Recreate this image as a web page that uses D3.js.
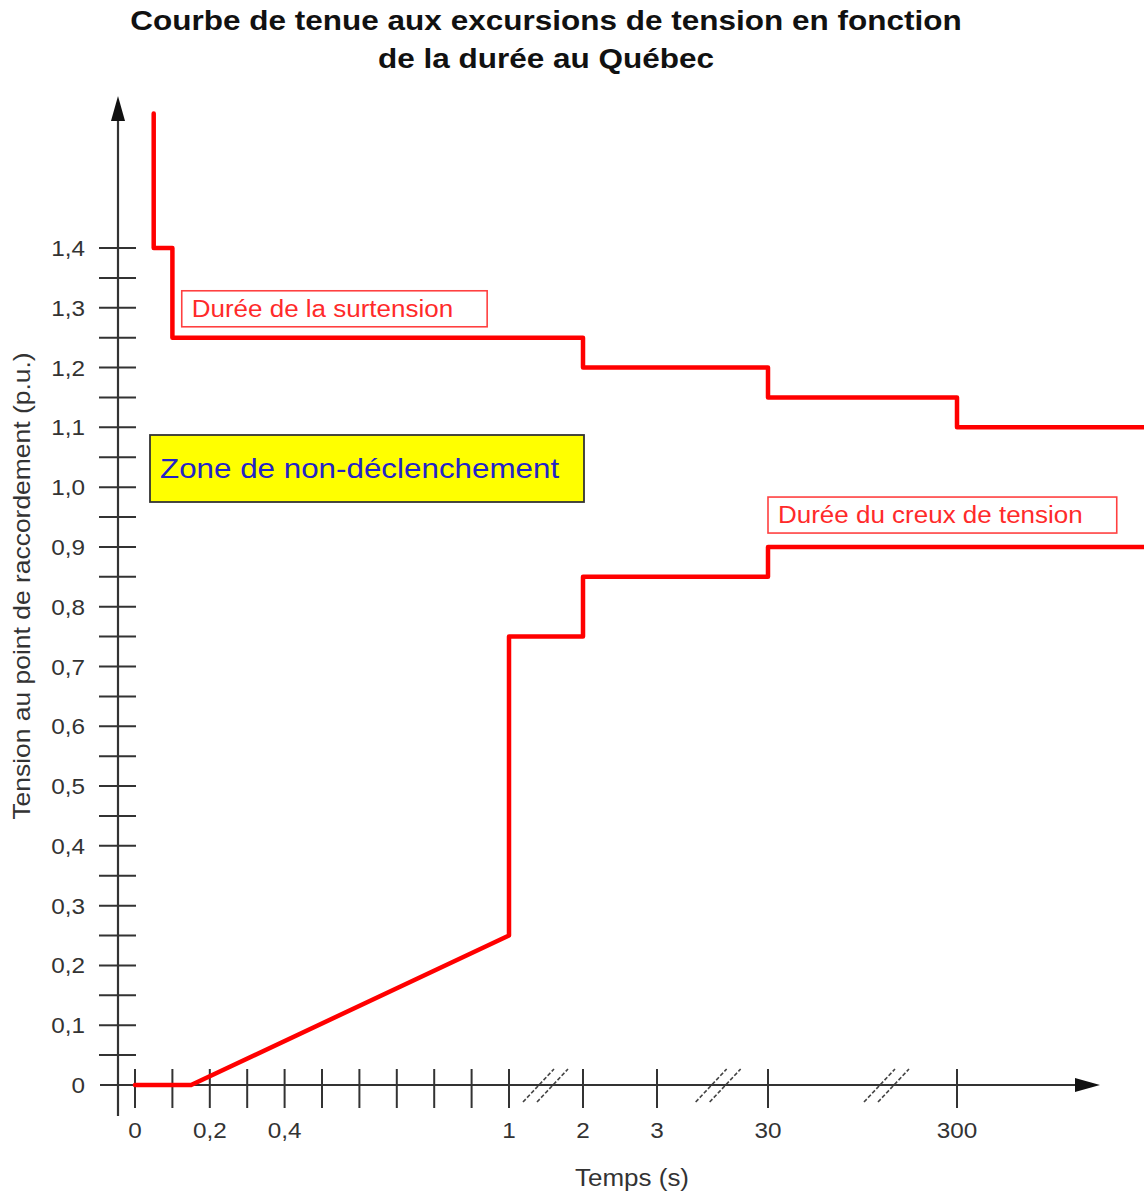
<!DOCTYPE html>
<html><head><meta charset="utf-8">
<script src="https://cdn.jsdelivr.net/npm/d3@7"></script>
<style>
html,body{margin:0;padding:0;background:#fff;}
svg{display:block;font-family:"Liberation Sans",Arial,sans-serif;}
</style></head><body>
<svg id="c" width="1144" height="1194"></svg>
<script>
// ---- data ----
const titleLines = ["Courbe de tenue aux excursions de tension en fonction", "de la durée au Québec"];
const yLabel = "Tension au point de raccordement (p.u.)";
const xLabel = "Temps (s)";
// x-axis anchor points (broken axis): time values in seconds
const xAnchors = [0, 1, 2, 3, 30, 300, 600];
const xTickValues = [0, 0.1, 0.2, 0.3, 0.4, 0.5, 0.6, 0.7, 0.8, 0.9, 1, 2, 3, 30, 300];
const xTickLabels = {"0":"0","0.2":"0,2","0.4":"0,4","1":"1","2":"2","3":"3","30":"30","300":"300"};
const xBreaks = [1.5, 18, 200];
const yMajorTicks = [0, 0.1, 0.2, 0.3, 0.4, 0.5, 0.6, 0.7, 0.8, 0.9, 1.0, 1.1, 1.2, 1.3, 1.4];
const yMinorTicks = [0.05, 0.15, 0.25, 0.35, 0.45, 0.55, 0.65, 0.75, 0.85, 0.95, 1.05, 1.15, 1.25, 1.35];
// overvoltage withstand curve (time s, voltage p.u.)
const surT = [0.05, 0.05, 0.1, 0.1, 2, 2, 30, 30, 300, 300, 600];
const surV = [1.625, 1.4, 1.4, 1.25, 1.25, 1.2, 1.2, 1.15, 1.15, 1.1, 1.1];
// undervoltage (dip) withstand curve
const creuxT = [0, 0.15, 1, 1, 2, 2, 30, 30, 600];
const creuxV = [0, 0, 0.25, 0.75, 0.75, 0.85, 0.85, 0.9, 0.9];
const notes = [
  {text:"Durée de la surtension", t:0.125, v:1.3},
  {text:"Durée du creux de tension", t:30, v:0.955}
];
const zoneText = "Zone de non-déclenchement";

// ---- drawing ----
const SX = 1.13; // horizontal text stretch of the original picture
const svg = d3.select("#c");
const x = d3.scaleLinear().domain(xAnchors).range([135, 509, 583, 657, 768, 957, 1150]);
const y = d3.scaleLinear().domain([0, 1.4]).range([1085, 248]);
const axisCol = "#333";

function stext(parent, tx, ty, str, opts){
  const o = Object.assign({size:22, anchor:"start", fill:axisCol, weight:"normal", rot:0, sx:SX}, opts||{});
  return parent.append("text")
    .attr("transform", `translate(${tx},${ty})` + (o.rot?` rotate(${o.rot})`:"") + ` scale(${o.sx},1)`)
    .attr("text-anchor", o.anchor).attr("font-size", o.size).attr("font-weight", o.weight)
    .attr("fill", o.fill).text(str);
}

// title
titleLines.forEach((t,i)=>stext(svg, 546, 30 + i*38, t, {size:28, anchor:"middle", weight:"bold", fill:"#111", sx:1.125}));

// y axis line + arrow
const y0 = y(0);
svg.append("line").attr("x1",118).attr("x2",118).attr("y1",1116).attr("y2",110)
  .attr("stroke",axisCol).attr("stroke-width",2.2);
svg.append("path").attr("d","M118,96 L111,121 L125,121 Z").attr("fill","#111");
// x axis line + arrow
svg.append("line").attr("x1",100).attr("x2",1085).attr("y1",y0).attr("y2",y0)
  .attr("stroke",axisCol).attr("stroke-width",2.2);
svg.append("path").attr("d",`M1100,${y0} L1075,${y0-7} L1075,${y0+7} Z`).attr("fill","#111");

// y ticks
const yTicksAll = yMajorTicks.filter(v=>v>0).concat(yMinorTicks);
svg.append("g").selectAll("line").data(yTicksAll).join("line")
  .attr("x1",99).attr("x2",136).attr("y1",d=>y(d)).attr("y2",d=>y(d))
  .attr("stroke",axisCol).attr("stroke-width",2);
const ytl = svg.append("g");
yMajorTicks.forEach(d=>stext(ytl, 85, y(d)+8, d===0?"0":d.toFixed(1).replace(".",","), {size:21.5, anchor:"end"}));

// x ticks
svg.append("g").selectAll("line").data(xTickValues).join("line")
  .attr("x1",d=>x(d)).attr("x2",d=>x(d)).attr("y1",y0-16).attr("y2",y0+23)
  .attr("stroke",axisCol).attr("stroke-width",2);
const xtl = svg.append("g");
xTickValues.filter(d=>xTickLabels[String(d)]!==undefined)
  .forEach(d=>stext(xtl, x(d), y0+53, xTickLabels[String(d)], {size:21.5, anchor:"middle"}));

// axis breaks
const brk = svg.append("g");
xBreaks.forEach(b=>{
  const cx = x(b);
  [-7,7].forEach(off=>{
    brk.append("line").attr("x1",cx+off-16).attr("y1",y0+17).attr("x2",cx+off+15).attr("y2",y0-16)
      .attr("stroke","#444").attr("stroke-width",1.6).attr("stroke-dasharray","4,2");
  });
});

// axis titles
stext(svg, 30, 586, yLabel, {size:23, anchor:"middle", rot:-90, sx:1.15});
stext(svg, 632, 1186, xLabel, {size:23, anchor:"middle"});

// curves
const line = d3.line().x(d=>x(d[0])).y(d=>y(d[1]));
[[surT,surV],[creuxT,creuxV]].forEach(([ts,vs])=>{
  svg.append("path").datum(ts.map((t,i)=>[t,vs[i]]))
    .attr("d",line).attr("fill","none").attr("stroke","#ff0000")
    .attr("stroke-width",4.5).attr("stroke-linejoin","round").attr("stroke-linecap","round");
});

// red annotation boxes
const noteG = svg.append("g");
notes.forEach(n=>{
  const g = noteG.append("g");
  const tx = x(n.t)+10, ty = y(n.v)+9;
  const t = stext(g, tx, ty, n.text, {size:23, fill:"#ff2a2a"});
  const w = t.node().getBBox().width * SX;
  g.insert("rect","text").attr("x",tx-10).attr("y",ty-26).attr("width",w+10+34).attr("height",36)
    .attr("fill","#fff").attr("stroke","#ff4040").attr("stroke-width",1.6);
});

// yellow zone box
const zg = svg.append("g");
zg.append("rect").attr("x",150).attr("y",435).attr("width",434).attr("height",67)
  .attr("fill","#ffff00").attr("stroke","#333").attr("stroke-width",1.8);
stext(zg, 160, 478, zoneText, {size:28, fill:"#2323c8", sx:1.12});
</script>
</body></html>
